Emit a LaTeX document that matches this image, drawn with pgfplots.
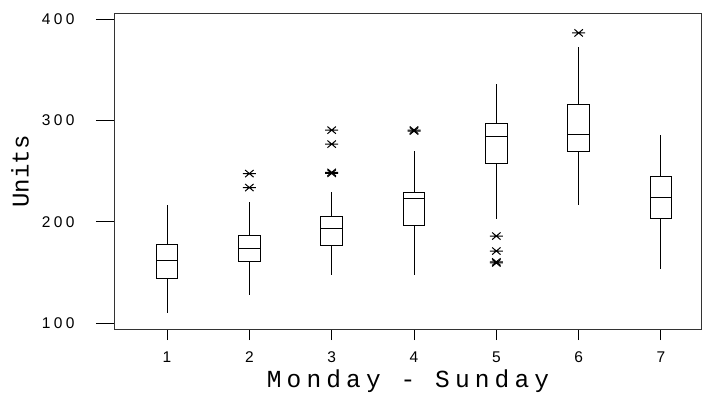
\documentclass[border=0pt]{standalone}
\usepackage{fontspec}
\setmainfont{Liberation Sans}
\newfontfamily\monofont{Liberation Mono}
\newfontfamily\monofontsp{Liberation Mono}[LetterSpace=21]
\newfontfamily\tickfontsp{Liberation Sans}[LetterSpace=22]
\usepackage{pgfplots}
\pgfplotsset{compat=1.18}
\usepgfplotslibrary{statistics}
\pgfdeclareplotmark{mtbstar}{%
  \pgfpathmoveto{\pgfqpoint{-\pgfplotmarksize}{0pt}}%
  \pgfpathlineto{\pgfqpoint{\pgfplotmarksize}{0pt}}%
  \pgfpathmoveto{\pgfqpoint{-.65\pgfplotmarksize}{-.55\pgfplotmarksize}}%
  \pgfpathlineto{\pgfqpoint{.65\pgfplotmarksize}{.55\pgfplotmarksize}}%
  \pgfpathmoveto{\pgfqpoint{-.65\pgfplotmarksize}{.55\pgfplotmarksize}}%
  \pgfpathlineto{\pgfqpoint{.65\pgfplotmarksize}{-.55\pgfplotmarksize}}%
  \pgfusepathqstroke}
\pgfplotsset{mybox/.style={black, line width=1bp, mark=mtbstar, mark size=6.5bp, mark options={solid, black, line width=1bp}}}
\begin{document}
\begin{tikzpicture}
\path[use as bounding box] (-115bp,-68bp) rectangle (588bp,329bp);
\begin{axis}[
  at={(0,0)}, anchor=south west,
  scale only axis, width=586bp, height=315bp,
  xmin=0.368, xmax=7.486, ymin=94.1, ymax=405.2,
  xtick={1,2,3,4,5,6,7}, xticklabels={1,2,3,4,5,6,7},
  ytick={100,200,300,400}, yticklabels={100,200,300,400},
  tick align=outside, tick pos=left,
  axis line style={black!80, line width=1bp},
  xtick style={black, line width=1bp, /pgfplots/major tick length=11bp},
  ytick style={black, line width=1bp, /pgfplots/major tick length=19bp},
  xticklabel style={font=\fontsize{15.5bp}{18bp}\selectfont, anchor=north, inner sep=0pt, yshift=-18bp},
  yticklabel style={font=\fontsize{15.5bp}{18bp}\tickfontsp, anchor=east, inner sep=0pt, xshift=-36bp},
  xlabel={Monday - Sunday},
  ylabel={Units},
  xlabel style={font=\fontsize{24.5bp}{28bp}\monofontsp, at={(axis description cs:0.5,0)}, anchor=base, yshift=-58bp, inner sep=0pt},
  ylabel style={font=\fontsize{24bp}{28bp}\monofont, at={(axis description cs:-0.162,0.5)}, anchor=center, inner sep=0pt},
  boxplot/draw direction=y,
  boxplot/box extend=0.26,
  boxplot/whisker extend=0,
]
\addplot[mybox, boxplot prepared={draw position=1, lower whisker=109.9, lower quartile=144.4, median=161.5, upper quartile=177.3, upper whisker=216.7}] coordinates {};
\addplot[mybox, boxplot prepared={draw position=2, lower whisker=127.3, lower quartile=161.2, median=173.3, upper quartile=186.2, upper whisker=220.0}] coordinates {(0,247.6) (0,233.8)};
\addplot[mybox, boxplot prepared={draw position=3, lower whisker=147.4, lower quartile=177.0, median=193.4, upper quartile=204.9, upper whisker=229.6}] coordinates {(0,290.5) (0,276.7) (0,247.8) (0,248.8)};
\addplot[mybox, boxplot prepared={draw position=4, lower whisker=147.4, lower quartile=196.3, median=223.4, upper quartile=229.3, upper whisker=270.0}] coordinates {(0,289.6) (0,290.6)};
\addplot[mybox, boxplot prepared={draw position=5, lower whisker=202.9, lower quartile=257.2, median=283.9, upper quartile=297.0, upper whisker=336.2}] coordinates {(0,185.9) (0,171.1) (0,159.3) (0,160.4)};
\addplot[mybox, boxplot prepared={draw position=6, lower whisker=216.5, lower quartile=269.0, median=286.1, upper quartile=316.1, upper whisker=372.7}] coordinates {(0,386.5)};
\addplot[mybox, boxplot prepared={draw position=7, lower whisker=153.6, lower quartile=202.9, median=224.3, upper quartile=244.4, upper whisker=285.5}] coordinates {};
\end{axis}
\end{tikzpicture}
\end{document}
